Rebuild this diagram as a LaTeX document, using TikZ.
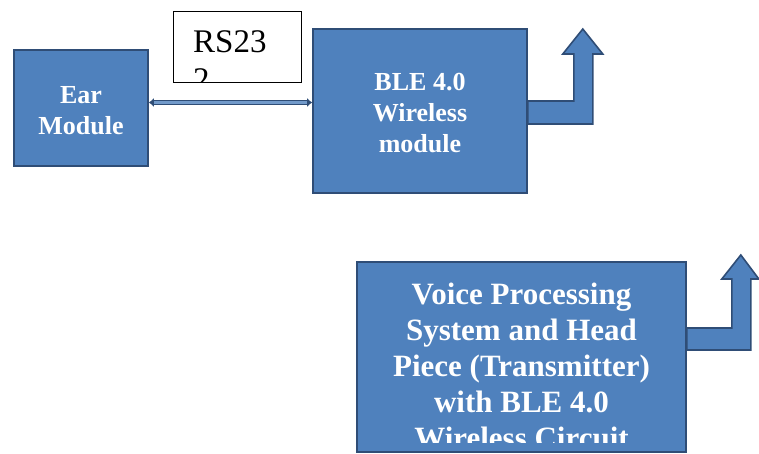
\documentclass[tikz,border=0pt]{standalone}
\usepackage{fontspec}
\setmainfont{Liberation Serif}
\usetikzlibrary{arrows.meta}

\definecolor{boxblue}{HTML}{4F81BD}
\definecolor{boxline}{HTML}{2F4D76}

\tikzset{
	block/.style={draw=boxline, fill=boxblue, line width=1.6pt, text=white,
		font=\bfseries\fontsize{26}{31}\selectfont, align=center, inner sep=0pt},
	label box/.style={draw=black, fill=white, line width=0.8pt, inner sep=0pt},
	link/.style={draw=boxline, line width=1.5pt, double=boxblue!80!white, double distance=2.2pt,
		{Latex[length=5pt,width=9pt]}-{Latex[length=5pt,width=9pt]}},
	bent arrow/.style={draw=boxline, fill=boxblue, line width=1.6pt, line join=miter}
}

\begin{document}
\begin{tikzpicture}[x=1pt, y=-1pt]
	\useasboundingbox (0,0) rectangle (759,454);
	%blocks
	\node[block, minimum width=134pt, minimum height=116pt] (ear) at (81,108) {};
	\node[block, draw=none, fill=none] (eartext) at (81,111) {Ear\\Module};
	\node[block, minimum width=214pt, minimum height=164pt] (ble) at (420,111) {};
	\node[block, draw=none, fill=none] (bletext) at (420,113) {BLE 4.0\\Wireless\\module};
	\node[block, minimum width=329pt, minimum height=190pt] (voice) at (521.5,357) {};
	\node[label box, minimum width=128pt, minimum height=71pt] (rs) at (237,46.5) {};
	%clipped texts
	\begin{scope}
		\clip (rs.north west) rectangle ([yshift=1pt]rs.south east);
		\node[anchor=north west, font=\fontsize{33}{38}\selectfont, align=left, inner sep=0pt]
			(rstext) at (193,30) {RS23\\2};
	\end{scope}
	\begin{scope}
		\clip (voice.north west) rectangle ([yshift=10pt]voice.south east);
		\node[anchor=north, text=white, font=\bfseries\fontsize{31}{36}\selectfont, align=center, inner sep=0pt]
			(voicetext) at (521.5,283) {Voice Processing\\System and Head\\Piece (Transmitter)\\with BLE 4.0\\Wireless Circuit};
	\end{scope}
	%link
	\draw[link] ([yshift=5.5pt]ear.east) -- ([yshift=5.5pt]ear.east -| ble.west);
	%outputs
	\draw[bent arrow] ([yshift=10pt]ble.east) -- ++(46,0) -- ++(0,-47) -- ++(-11,0)
		-- ++(20,-25) -- ++(20,25) -- ++(-10,0) -- ++(0,70) -- ([yshift=-13pt]ble.east) -- cycle;
	\draw[bent arrow] ([yshift=29pt]voice.east) -- ++(45,0) -- ++(0,-49) -- ++(-10,0)
		-- ++(19,-24) -- ++(18,24) -- ++(-8,0) -- ++(0,71) -- ([yshift=7pt]voice.east) -- cycle;
\end{tikzpicture}
\end{document}
